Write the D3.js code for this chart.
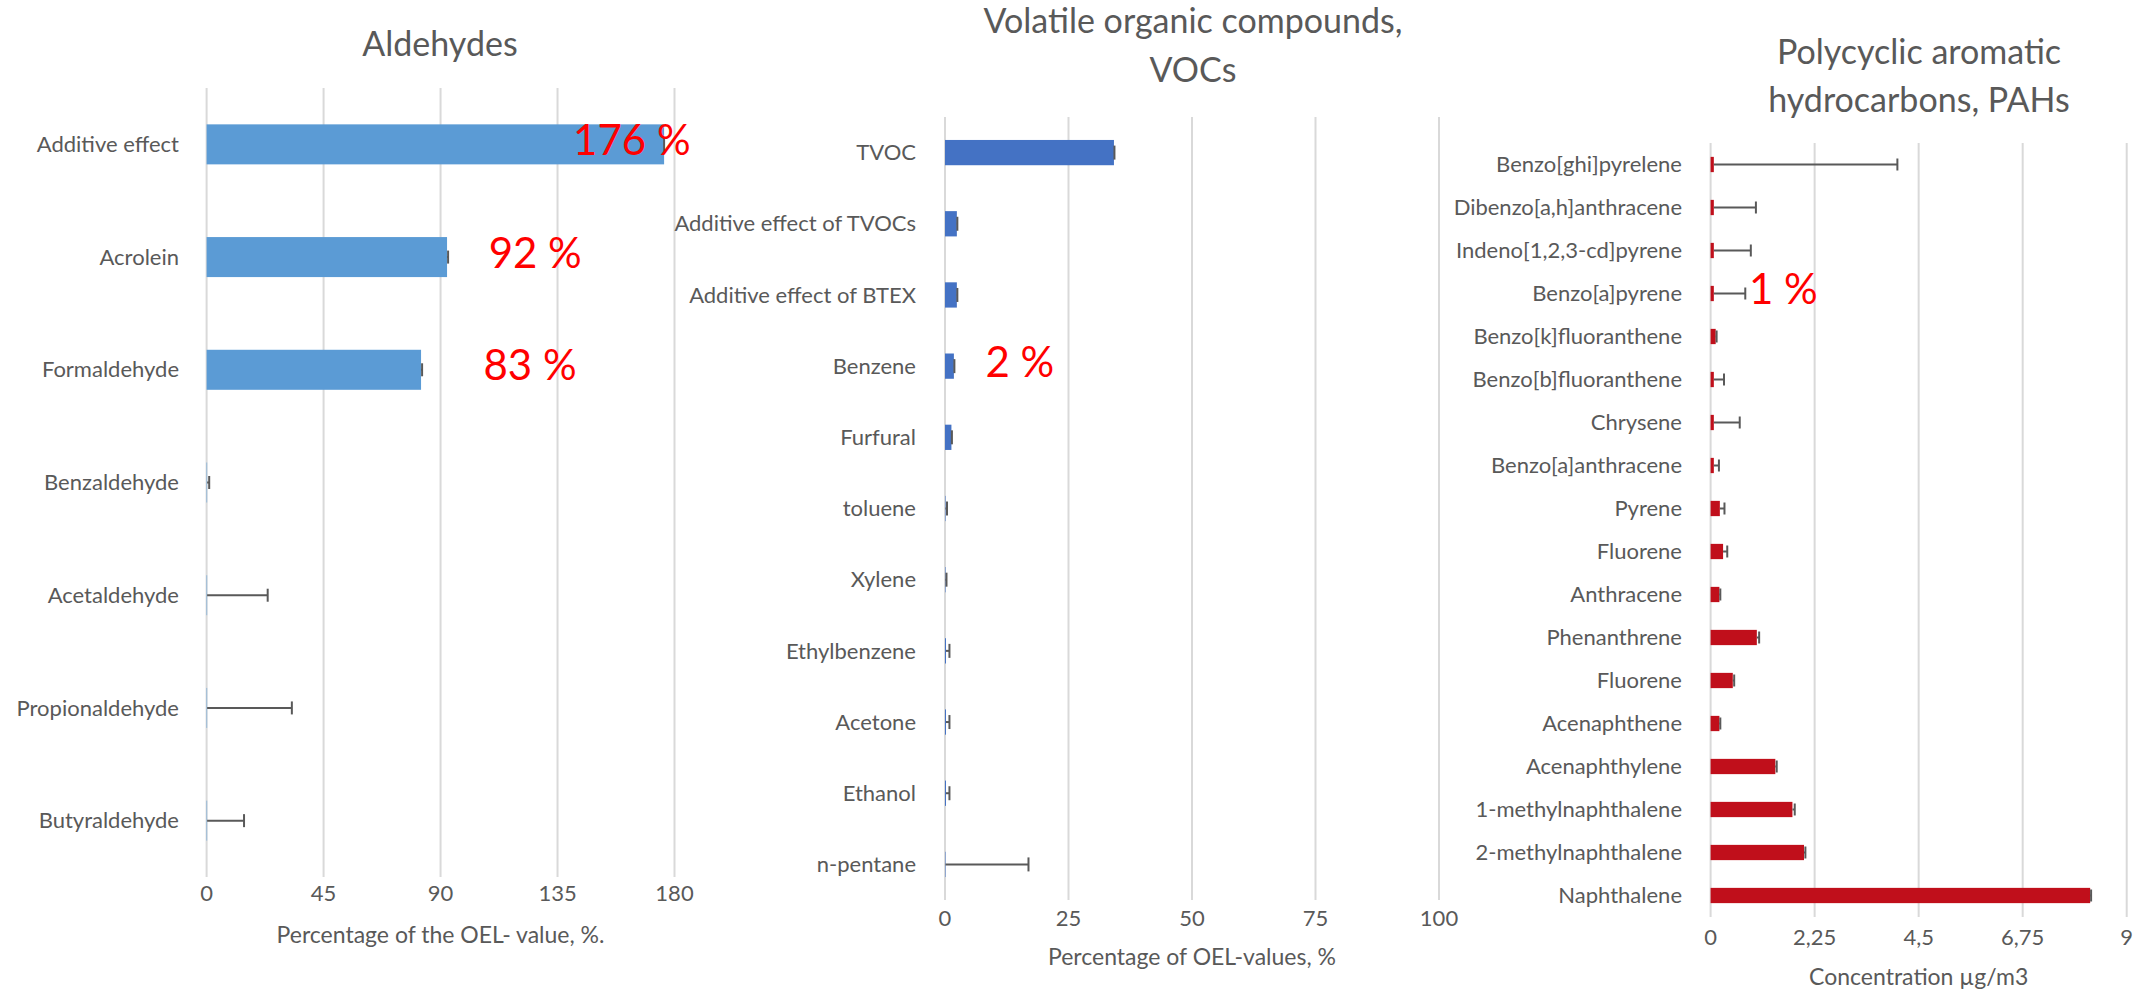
<!DOCTYPE html>
<html>
<head>
<meta charset="utf-8">
<script src="https://cdn.jsdelivr.net/npm/d3@7"></script>
<style>
  body { margin: 0; background: #fff; }
  svg { display: block; font-family: Lato, "Open Sans", sans-serif; }
</style>
</head>
<body>
<div id="anchor-point"></div>
<script>
// values

const ald_categories = ["Additive effect", "Acrolein", "Formaldehyde", "Benzaldehyde",
  "Acetaldehyde", "Propionaldehyde", "Butyraldehyde"];
const ald_values = [176, 92.5, 82.5, 0.2, 0.2, 0.2, 0.2];
const ald_errors = [0, 0.4, 0.4, 0.8, 23.3, 32.6, 14.2];
const ald_ticks = [0, 45, 90, 135, 180];

const voc_categories = ["TVOC", "Additive effect of TVOCs", "Additive effect of BTEX", "Benzene",
  "Furfural", "toluene", "Xylene", "Ethylbenzene", "Acetone", "Ethanol", "n-pentane"];
const voc_values = [34.2, 2.4, 2.4, 1.8, 1.3, 0.1, 0.1, 0.2, 0.2, 0.2, 0.1];
const voc_errors = [0.1, 0.1, 0.1, 0.1, 0.1, 0.3, 0.2, 0.7, 0.7, 0.7, 16.8];
const voc_ticks = [0, 25, 50, 75, 100];

const pah_categories = ["Benzo[ghi]pyrelene", "Dibenzo[a,h]anthracene", "Indeno[1,2,3-cd]pyrene",
  "Benzo[a]pyrene", "Benzo[k]fluoranthene", "Benzo[b]fluoranthene", "Chrysene",
  "Benzo[a]anthracene", "Pyrene", "Fluorene", "Anthracene", "Phenanthrene", "Fluorene",
  "Acenaphthene", "Acenaphthylene", "1-methylnaphthalene", "2-methylnaphthalene", "Naphthalene"];
const pah_values = [0.07, 0.07, 0.07, 0.07, 0.11, 0.07, 0.07, 0.07, 0.2, 0.27, 0.19, 1.0,
  0.48, 0.19, 1.4, 1.77, 2.02, 8.21];
const pah_errors = [3.97, 0.91, 0.8, 0.68, 0.02, 0.22, 0.56, 0.11, 0.1, 0.09, 0.02, 0.05,
  0.03, 0.02, 0.03, 0.05, 0.03, 0.02];
const pah_ticks = [0, 2.25, 4.5, 6.75, 9];
const pah_tick_labels = ["0", "2,25", "4,5", "6,75", "9"];

// red callouts: [category index, text, x value where the text starts]
const ald_notes = [[0, "176 %", 141], [1, "92 %", 108.5], [2, "83 %", 106.5]];
const voc_notes = [[3, "2 %", 8.2]];
const pah_notes = [[3, "1 %", 0.83]];

const W = 2141, H = 989;
const grey = "#595959";
const label_size = 22;

const svg = d3.select("#anchor-point").append("svg")
  .attr("width", W).attr("height", H);
svg.append("rect").attr("width", W).attr("height", H).attr("fill", "#fff");

function drawPanel(p) {
  const g = svg.append("g");
  const x = d3.scaleLinear().domain(p.domain).range([p.x0, p.x1]);
  const y = d3.scaleBand()
    .domain(d3.range(p.cats.length))
    .range([p.y0, p.y1])
    .paddingInner(0.645).paddingOuter(0.3225);

  // vertical gridlines
  g.selectAll(".grid").data(p.ticks).enter().append("line")
    .attr("x1", d => x(d)).attr("x2", d => x(d))
    .attr("y1", p.y0).attr("y2", p.y1)
    .attr("stroke", "#d9d9d9").attr("stroke-width", 2);

  // tick labels
  g.selectAll(".tick").data(p.ticks).enter().append("text")
    .attr("x", d => x(d)).attr("y", p.tickY)
    .attr("dy", "0.35em").attr("text-anchor", "middle")
    .attr("font-size", label_size).attr("fill", grey)
    .text((d, i) => p.tickLabels ? p.tickLabels[i] : d);

  // category labels
  g.selectAll(".cat").data(p.cats).enter().append("text")
    .attr("x", p.labelX).attr("y", (d, i) => y(i) + y.bandwidth() / 2)
    .attr("dy", "0.35em").attr("text-anchor", "end")
    .attr("font-size", label_size).attr("fill", grey)
    .text(d => d);

  // bars
  g.selectAll(".bar").data(p.values).enter().append("rect")
    .attr("x", x(0)).attr("y", (d, i) => y(i))
    .attr("width", d => x(d) - x(0)).attr("height", y.bandwidth())
    .attr("fill", p.color);

  // error bars (plus direction)
  const eb = g.selectAll(".err").data(p.values).enter().append("g");
  eb.append("line")
    .attr("x1", d => x(d)).attr("x2", (d, i) => x(d + p.errors[i]))
    .attr("y1", (d, i) => y(i) + y.bandwidth() / 2)
    .attr("y2", (d, i) => y(i) + y.bandwidth() / 2)
    .attr("stroke", grey).attr("stroke-width", 2);
  eb.append("line")
    .attr("x1", (d, i) => x(d + p.errors[i])).attr("x2", (d, i) => x(d + p.errors[i]))
    .attr("y1", (d, i) => y(i) + y.bandwidth() / 2 - p.cap)
    .attr("y2", (d, i) => y(i) + y.bandwidth() / 2 + p.cap)
    .attr("stroke", grey).attr("stroke-width", 2);

  // titles
  p.title.forEach((t, k) => {
    g.append("text")
      .attr("x", p.titleX).attr("y", p.titleY[k])
      .attr("dy", "0.35em").attr("text-anchor", "middle")
      .attr("font-size", 34).attr("fill", grey)
      .text(t);
  });

  g.append("text")
    .attr("x", (p.x0 + p.x1) / 2).attr("y", p.axisTitleY)
    .attr("dy", "0.35em").attr("text-anchor", "middle")
    .attr("font-size", 23).attr("fill", grey)
    .text(p.axisTitle);

  // red percentage callouts
  g.selectAll(".note").data(p.notes).enter().append("text")
    .attr("x", d => x(d[2])).attr("y", d => y(d[0]) + y.bandwidth() / 2 - 4)
    .attr("dy", "0.35em")
    .attr("font-size", 42).attr("fill", "#ff0000")
    .text(d => d[1]);
}

drawPanel({
  cats: ald_categories, values: ald_values, errors: ald_errors, ticks: ald_ticks,
  domain: [0, 180], x0: 206.6, x1: 674.5, y0: 88, y1: 877,
  labelX: 179, tickY: 893, axisTitleY: 935, cap: 6.5,
  color: "#5b9bd5", title: ["Aldehydes"], titleX: 440, titleY: [44],
  axisTitle: "Percentage of the OEL- value, %.", notes: ald_notes
});

drawPanel({
  cats: voc_categories, values: voc_values, errors: voc_errors, ticks: voc_ticks,
  domain: [0, 100], x0: 945, x1: 1439, y0: 117, y1: 900,
  labelX: 916, tickY: 918, axisTitleY: 957, cap: 7,
  color: "#4472c4", title: ["Volatile organic compounds,", "VOCs"], titleX: 1193, titleY: [21, 70],
  axisTitle: "Percentage of OEL-values, %", notes: voc_notes
});

drawPanel({
  cats: pah_categories, values: pah_values, errors: pah_errors, ticks: pah_ticks,
  tickLabels: pah_tick_labels,
  domain: [0, 9], x0: 1710.6, x1: 2126.7, y0: 143, y1: 917,
  labelX: 1682, tickY: 937, axisTitleY: 977, cap: 6,
  color: "#c00f1b", title: ["Polycyclic aromatic", "hydrocarbons, PAHs"], titleX: 1919, titleY: [52, 100],
  axisTitle: "Concentration µg/m3", notes: pah_notes
});
</script>
</body>
</html>
